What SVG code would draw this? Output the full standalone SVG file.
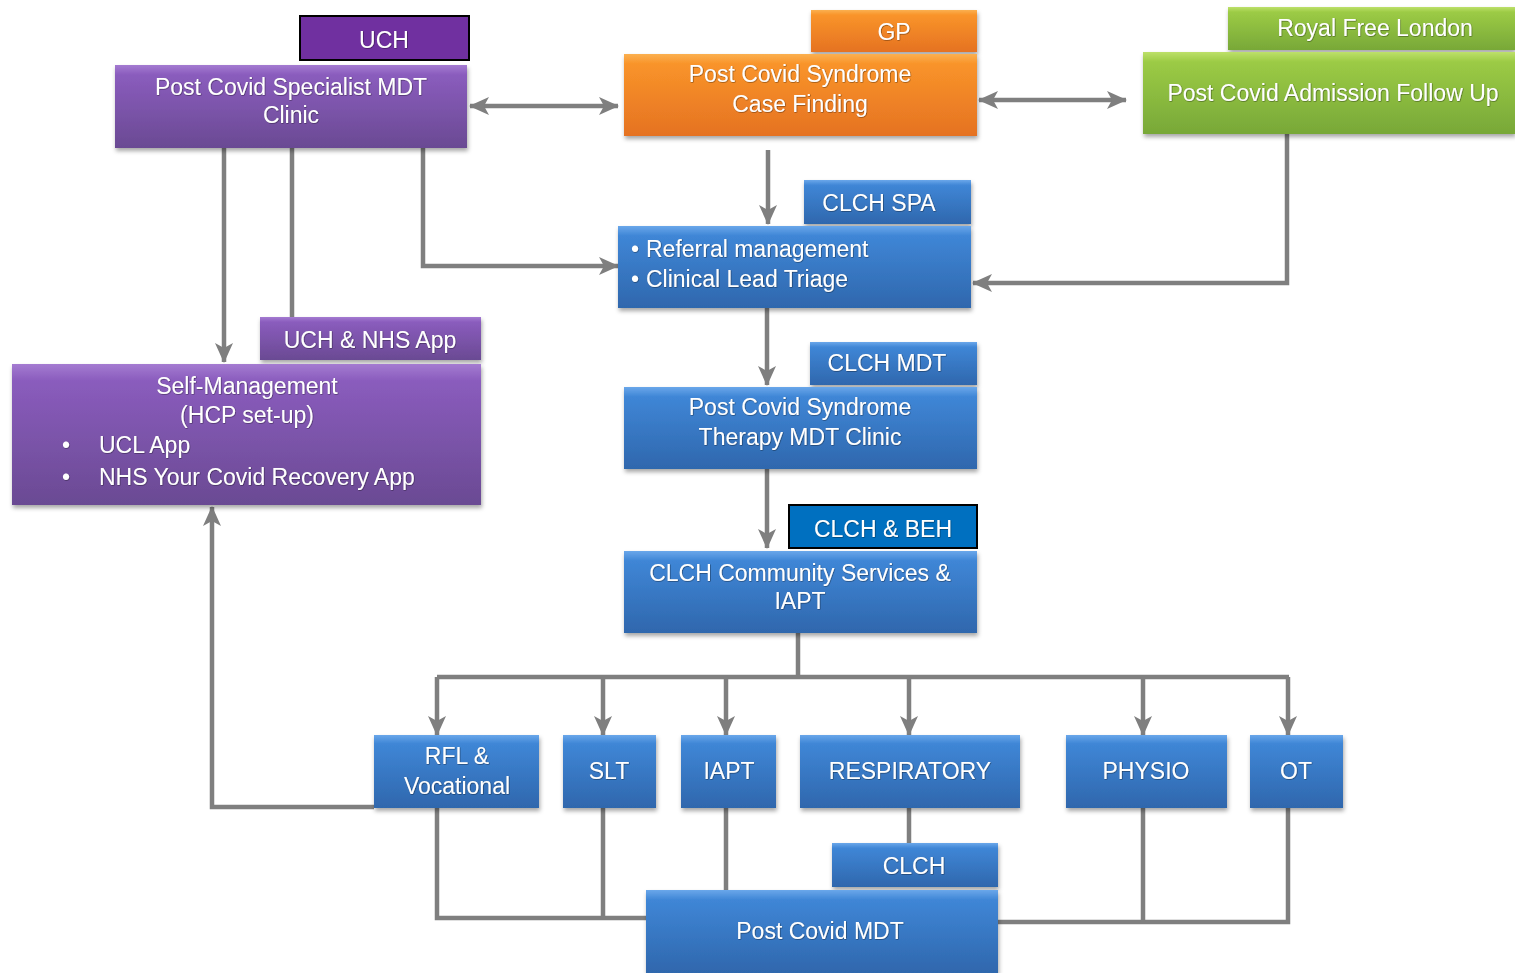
<svg xmlns="http://www.w3.org/2000/svg" width="1515" height="973" viewBox="0 0 1515 973">
<style>
text{font-family:"Liberation Sans",Arial,sans-serif;font-size:23px;fill:#fff;text-anchor:middle;filter:url(#ts)}
.l{text-anchor:start}
.box{filter:url(#sh)}
.conn path{fill:none;stroke:#7f7f7f;stroke-width:4.5}
.arr{marker-end:url(#ah)}
.dbl{marker-start:url(#ah);marker-end:url(#ah)}
</style>
<defs>
<linearGradient id="gp" x1="0" y1="0" x2="0" y2="1"><stop offset="0" stop-color="#a47bd1"/><stop offset="0.12" stop-color="#8a5cbd"/><stop offset="1" stop-color="#6a4a93"/></linearGradient>
<linearGradient id="gb" x1="0" y1="0" x2="0" y2="1"><stop offset="0" stop-color="#6aa7ea"/><stop offset="0.12" stop-color="#3f86d6"/><stop offset="1" stop-color="#2f67ad"/></linearGradient>
<linearGradient id="go" x1="0" y1="0" x2="0" y2="1"><stop offset="0" stop-color="#fbb050"/><stop offset="0.12" stop-color="#f9942a"/><stop offset="1" stop-color="#e57222"/></linearGradient>
<linearGradient id="gg" x1="0" y1="0" x2="0" y2="1"><stop offset="0" stop-color="#bde06a"/><stop offset="0.12" stop-color="#9ccb45"/><stop offset="1" stop-color="#78a838"/></linearGradient>
<filter id="sh" x="-10%" y="-10%" width="120%" height="130%"><feDropShadow dx="1" dy="3" stdDeviation="2" flood-color="#000" flood-opacity="0.35"/></filter>
<filter id="ts" x="-5%" y="-20%" width="110%" height="140%"><feDropShadow dx="0.5" dy="0.5" stdDeviation="0.6" flood-color="#000" flood-opacity="0.6"/></filter>
<marker id="ah" viewBox="0 0 20 20" refX="19" refY="10" markerWidth="20" markerHeight="20" markerUnits="userSpaceOnUse" orient="auto-start-reverse"><path d="M0,1 L20,10 L0,19 L5,10 Z" fill="#7f7f7f"/></marker>
</defs>

<g class="conn" id="connectors">
<path class="dbl" d="M470,106 H618"/>
<path class="dbl" d="M979,100 H1126"/>
<path class="arr" d="M768,150 V224"/>
<path class="arr" d="M423,148 V266 H618"/>
<path class="arr" d="M224,148 V362"/>
<path d="M292,148 V317"/>
<path class="arr" d="M1287,134 V283 H973"/>
<path class="arr" d="M767,308 V385"/>
<path class="arr" d="M767,469 V548"/>
<path d="M798,633 V677"/>
<path d="M437,677 H1289"/>
<path class="arr" d="M437,677 V735"/>
<path class="arr" d="M603,677 V735"/>
<path class="arr" d="M726,677 V735"/>
<path class="arr" d="M909,677 V735"/>
<path class="arr" d="M1143,677 V735"/>
<path class="arr" d="M1288,677 V735"/>
<path class="arr" d="M374,807 H212 V507"/>
<path d="M437,808 V918 H646"/>
<path d="M603,808 V918"/>
<path d="M726,808 V890"/>
<path d="M909,808 V843"/>
<path d="M998,922 H1288 V808"/>
<path d="M1143,808 V922"/>
</g>

<g id="uch-tab"><rect x="300" y="16" width="169" height="44" fill="#7030a0" stroke="#000" stroke-width="2"/><text x="384" y="48">UCH</text></g>
<g id="specialist"><rect class="box" x="115" y="65" width="352" height="83" fill="url(#gp)"/><text x="291" y="95">Post Covid Specialist MDT</text><text x="291" y="123">Clinic</text></g>

<g id="gp-tab"><rect class="box" x="811" y="10" width="166" height="42" fill="url(#go)"/><text x="894" y="40">GP</text></g>
<g id="case-finding"><rect class="box" x="624" y="54" width="353" height="82" fill="url(#go)"/><text x="800" y="82">Post Covid Syndrome</text><text x="800" y="112">Case Finding</text></g>

<g id="rfl-tab"><rect class="box" x="1228" y="7" width="287" height="43" fill="url(#gg)"/><text x="1375" y="36">Royal Free London</text></g>
<g id="admission"><rect class="box" x="1143" y="52" width="372" height="82" fill="url(#gg)"/><text x="1333" y="101">Post Covid Admission Follow Up</text></g>

<g id="spa-tab"><rect class="box" x="804" y="180" width="167" height="44" fill="url(#gb)"/><text x="879" y="211">CLCH SPA</text></g>
<g id="referral"><rect class="box" x="618" y="226" width="353" height="82" fill="url(#gb)"/><text class="l" x="631" y="257">•</text><text class="l" x="646" y="257">Referral management</text><text class="l" x="631" y="287">•</text><text class="l" x="646" y="287">Clinical Lead Triage</text></g>

<g id="mdt-tab"><rect class="box" x="810" y="342" width="167" height="43" fill="url(#gb)"/><text x="887" y="371">CLCH MDT</text></g>
<g id="therapy"><rect class="box" x="624" y="387" width="353" height="82" fill="url(#gb)"/><text x="800" y="415">Post Covid Syndrome</text><text x="800" y="445">Therapy MDT Clinic</text></g>

<g id="beh-tab"><rect x="789" y="505" width="188" height="43" fill="#0070c0" stroke="#000" stroke-width="2"/><text x="883" y="537">CLCH &amp; BEH</text></g>
<g id="community"><rect class="box" x="624" y="551" width="353" height="82" fill="url(#gb)"/><text x="800" y="581">CLCH Community Services &amp;</text><text x="800" y="609">IAPT</text></g>

<g id="app-tab"><rect class="box" x="260" y="317" width="221" height="43" fill="url(#gp)"/><text x="370" y="348">UCH &amp; NHS App</text></g>
<g id="self-management"><rect class="box" x="12" y="364" width="469" height="141" fill="url(#gp)"/><text x="247" y="394">Self-Management</text><text x="247" y="423">(HCP set-up)</text><text class="l" x="62" y="453">•</text><text class="l" x="99" y="453">UCL App</text><text class="l" x="62" y="485">•</text><text class="l" x="99" y="485">NHS Your Covid Recovery App</text></g>

<g id="rfl-vocational"><rect class="box" x="374" y="735" width="165" height="73" fill="url(#gb)"/><text x="457" y="764">RFL &amp;</text><text x="457" y="794">Vocational</text></g>
<g id="slt"><rect class="box" x="563" y="735" width="93" height="73" fill="url(#gb)"/><text x="609" y="779">SLT</text></g>
<g id="iapt"><rect class="box" x="681" y="735" width="95" height="73" fill="url(#gb)"/><text x="729" y="779">IAPT</text></g>
<g id="respiratory"><rect class="box" x="800" y="735" width="220" height="73" fill="url(#gb)"/><text x="910" y="779">RESPIRATORY</text></g>
<g id="physio"><rect class="box" x="1066" y="735" width="161" height="73" fill="url(#gb)"/><text x="1146" y="779">PHYSIO</text></g>
<g id="ot"><rect class="box" x="1250" y="735" width="93" height="73" fill="url(#gb)"/><text x="1296" y="779">OT</text></g>

<g id="clch-tab"><rect class="box" x="832" y="843" width="166" height="44" fill="url(#gb)"/><text x="914" y="874">CLCH</text></g>
<g id="post-covid-mdt"><rect class="box" x="646" y="890" width="352" height="83" fill="url(#gb)"/><text x="820" y="939">Post Covid MDT</text></g>
</svg>
